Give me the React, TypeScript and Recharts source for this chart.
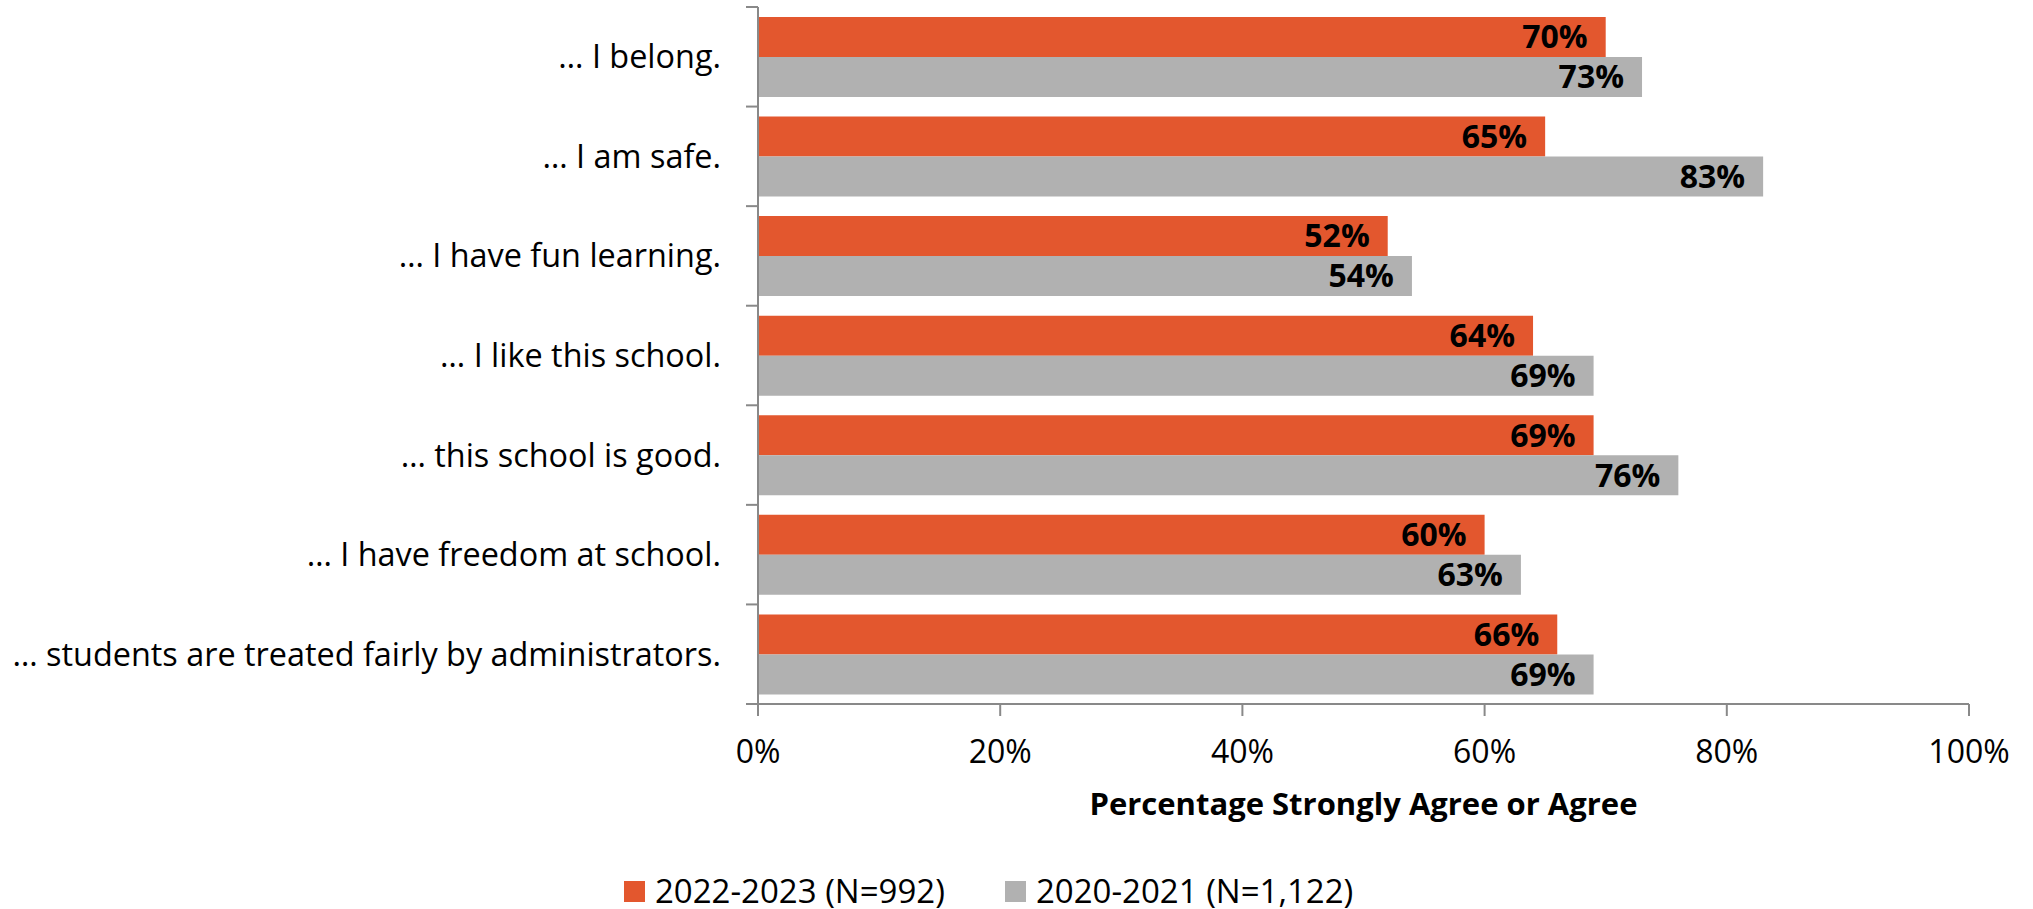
import React from 'react';
import { BarChart, Bar, XAxis, YAxis, LabelList, Legend } from 'recharts';

const categories = [
  '… I belong.',
  '… I am safe.',
  '… I have fun learning.',
  '… I like this school.',
  '… this school is good.',
  '… I have freedom at school.',
  '… students are treated fairly by administrators.',
];
const values2022 = [70, 65, 52, 64, 69, 60, 66];
const values2020 = [73, 83, 54, 69, 76, 63, 69];
const xTicks = [0, 20, 40, 60, 80, 100];
const seriesNames = ['2022-2023 (N=992)', '2020-2021 (N=1,122)'];
const axisTitle = 'Percentage Strongly Agree or Agree';

const ORANGE = '#E3572E';
const GREY = '#B1B1B1';
const AXIS = '#898989';
const FONT = "'Open Sans', sans-serif";

const data = categories.map((label, i) => ({ label, s2022: values2022[i], s2020: values2020[i] }));

const W = 2033;
const H = 909;
const MARGIN = { top: 7, right: 64, bottom: 0, left: 0 };
const Y_WIDTH = 758;
const X_HEIGHT = 205;
const TICK_SIZE = 12;
const TICK_MARGIN = 25;

const CategoryTick = (props: any) => {
  const { x, y, payload, index, visibleTicksCount } = props;
  const plotH = H - MARGIN.top - MARGIN.bottom - X_HEIGHT;
  const half = payload && typeof payload.offset === 'number' && payload.offset > 0 ? payload.offset : plotH / categories.length / 2;
  const axisX = x + TICK_SIZE + TICK_MARGIN;
  const count = visibleTicksCount || categories.length;
  return (
    <g>
      <line x1={axisX - TICK_SIZE} x2={axisX} y1={y - half} y2={y - half} stroke={AXIS} strokeWidth={2} />
      {index === count - 1 ? (
        <line x1={axisX - TICK_SIZE} x2={axisX} y1={y + half} y2={y + half} stroke={AXIS} strokeWidth={2} />
      ) : null}
      <text x={x} y={y} dy="0.355em" textAnchor="end" fill="#000" fontSize={32.4} fontFamily={FONT}>
        {payload.value}
      </text>
    </g>
  );
};

const LegendContent = () => {
  const colors = [ORANGE, GREY];
  const lefts = [624, 1005];
  return (
    <div style={{ position: 'relative', width: W, height: 32 }}>
      {seriesNames.map((name, i) => (
        <div
          key={name}
          style={{
            position: 'absolute',
            left: lefts[i],
            top: 0,
            height: 32,
            display: 'flex',
            alignItems: 'center',
            whiteSpace: 'nowrap',
          }}
        >
          <span style={{ display: 'inline-block', width: 21, height: 21, background: colors[i], marginRight: 10 }} />
          <span style={{ fontFamily: FONT, fontSize: 33, lineHeight: '32px', color: '#000' }}>{name}</span>
        </div>
      ))}
    </div>
  );
};

export default function App() {
  return (
    <div style={{ position: 'absolute', left: 0, top: 0, width: W, height: H, background: '#fff' }}>
      <BarChart
        width={W}
        height={H}
        data={data}
        layout="vertical"
        margin={MARGIN}
        barCategoryGap="10%"
        barGap={0}
      >
        <XAxis
          type="number"
          domain={[0, 100]}
          ticks={xTicks}
          interval={0}
          tickFormatter={(v: number) => `${v}%`}
          height={X_HEIGHT}
          tickSize={12}
          tickMargin={24}
          axisLine={{ stroke: AXIS, strokeWidth: 2 }}
          tickLine={{ stroke: AXIS, strokeWidth: 2 }}
          tick={{ fill: '#000', fontSize: 32, fontFamily: FONT }}
          label={{
            value: axisTitle,
            position: 'insideBottom',
            offset: 94,
            fill: '#000',
            fontSize: 31,
            fontWeight: 700,
            fontFamily: FONT,
          }}
        />
        <YAxis
          type="category"
          dataKey="label"
          width={Y_WIDTH}
          interval={0}
          tickSize={TICK_SIZE}
          tickMargin={TICK_MARGIN}
          tickLine={false}
          axisLine={{ stroke: AXIS, strokeWidth: 2 }}
          tick={<CategoryTick />}
        />
        <Legend
          layout="horizontal"
          verticalAlign="middle"
          align="center"
          content={<LegendContent />}
          wrapperStyle={{ top: 875, left: 0, width: W, height: 32 }}
        />
        <Bar dataKey="s2022" name={seriesNames[0]} fill={ORANGE} isAnimationActive={false}>
          <LabelList
            dataKey="s2022"
            position="insideRight"
            offset={18}
            formatter={(v: any) => `${v}%`}
            fill="#000"
            fontSize={32}
            fontWeight={700}
            fontFamily={FONT}
          />
        </Bar>
        <Bar dataKey="s2020" name={seriesNames[1]} fill={GREY} isAnimationActive={false}>
          <LabelList
            dataKey="s2020"
            position="insideRight"
            offset={18}
            formatter={(v: any) => `${v}%`}
            fill="#000"
            fontSize={32}
            fontWeight={700}
            fontFamily={FONT}
          />
        </Bar>
      </BarChart>
    </div>
  );
}
